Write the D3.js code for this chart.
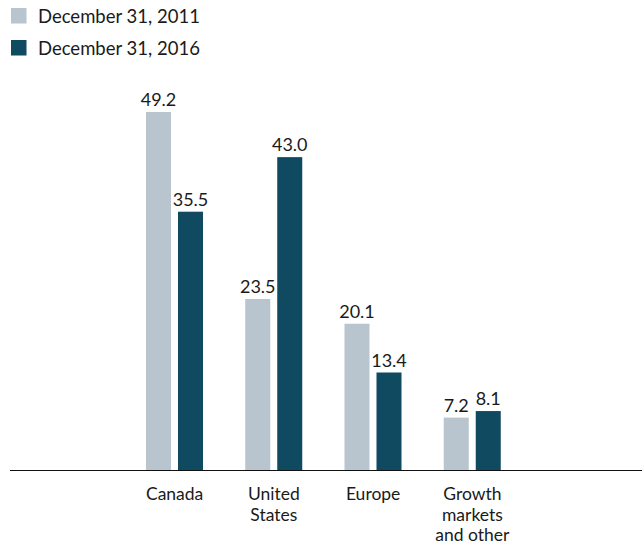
<!DOCTYPE html>
<html>
<head>
<meta charset="utf-8">
<script src="https://cdn.jsdelivr.net/npm/d3@7"></script>
<style>
  body { margin: 0; background: #fff; }
  text { font-family: Lato, "Open Sans", sans-serif; fill: #1a1a1a; }
</style>
</head>
<body>
<div class="svg-container"></div>
<script>
// chart data
const categories = ['Canada', 'United States', 'Europe', 'Growth markets and other'];
const categoryLines = [['Canada'], ['United', 'States'], ['Europe'], ['Growth', 'markets', 'and other']];
const seriesNames = ['December 31, 2011', 'December 31, 2016'];
const values2011 = [49.2, 23.5, 20.1, 7.2];
const values2016 = [35.5, 43.0, 13.4, 8.1];
const seriesColours = ['#b8c4ce', '#0f4a61'];

const width = 642;
const height = 544;

const svg = d3.select('.svg-container')
  .append('svg')
  .attr('width', width)
  .attr('height', height);

// scales
const x = d3.scaleBand()
  .domain(categories)
  .range([125, 522]);

const x1 = d3.scaleBand()
  .domain(seriesNames)
  .range([21, 78])
  .paddingInner(0.21875);

const y = d3.scaleLinear()
  .domain([0, 50])
  .range([470, 106.2]);

const colour = d3.scaleOrdinal()
  .domain(seriesNames)
  .range(seriesColours);

const rows = categories.map((c, i) => ({
  category: c,
  values: [
    { series: seriesNames[0], value: values2011[i] },
    { series: seriesNames[1], value: values2016[i] }
  ]
}));

// bars
const groups = svg.selectAll('g.group')
  .data(rows)
  .enter()
  .append('g')
  .attr('class', 'group')
  .attr('transform', d => `translate(${x(d.category)},0)`);

groups.selectAll('rect')
  .data(d => d.values)
  .enter()
  .append('rect')
  .attr('x', d => x1(d.series))
  .attr('y', d => y(d.value))
  .attr('width', x1.bandwidth())
  .attr('height', d => y(0) - y(d.value))
  .style('fill', d => colour(d.series));

// value labels
groups.selectAll('text.value')
  .data(d => d.values)
  .enter()
  .append('text')
  .attr('class', 'value')
  .attr('x', d => x1(d.series) + x1.bandwidth() / 2)
  .attr('y', d => y(d.value) - 6)
  .attr('text-anchor', 'middle')
  .style('font-size', '18px')
  .text(d => d.value.toFixed(1));

// baseline
svg.append('line')
  .attr('x1', 10)
  .attr('x2', width)
  .attr('y1', y(0) + 0.5)
  .attr('y2', y(0) + 0.5)
  .style('stroke', '#111')
  .style('stroke-width', 1.2);

// category labels
const labels = svg.selectAll('text.cat')
  .data(categories)
  .enter()
  .append('text')
  .attr('class', 'cat')
  .attr('text-anchor', 'middle')
  .attr('x', d => x(d) + x.bandwidth() / 2)
  .attr('y', 500)
  .style('font-size', '17.5px');

labels.selectAll('tspan')
  .data((d, i) => categoryLines[i])
  .enter()
  .append('tspan')
  .attr('x', function () { return d3.select(this.parentNode).attr('x'); })
  .attr('dy', (d, i) => i === 0 ? 0 : 20.5)
  .text(d => d);

// legend
const legend = svg.selectAll('g.legend')
  .data(seriesNames)
  .enter()
  .append('g')
  .attr('class', 'legend')
  .attr('transform', (d, i) => `translate(11,${8 + i * 32})`);

legend.append('rect')
  .attr('width', 15.5)
  .attr('height', 15.5)
  .style('fill', d => colour(d));

legend.append('text')
  .attr('x', 27)
  .attr('y', 15)
  .style('font-size', '18.5px')
  .text(d => d);
</script>
</body>
</html>
